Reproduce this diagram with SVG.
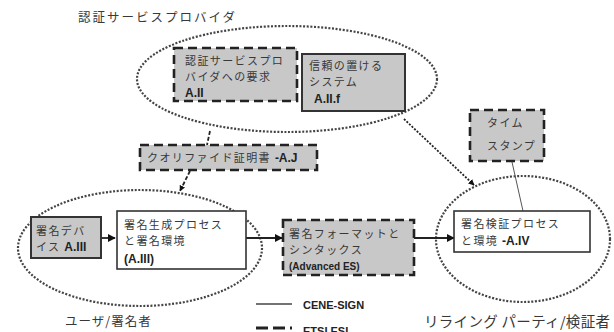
<svg xmlns="http://www.w3.org/2000/svg" width="614" height="332" viewBox="0 0 614 332">
<defs>
<style>
text{font-family:"Noto Sans CJK JP","Liberation Sans",sans-serif;fill:#383838;font-size:11px;letter-spacing:1.4px}
.b{font-family:"Liberation Sans","Noto Sans CJK JP",sans-serif;font-weight:bold;fill:#222;font-size:12px;letter-spacing:0}
.ell{fill:none;stroke:#444;stroke-width:2.2;stroke-dasharray:2 1.6}
.gs{fill:#c8c8c8;stroke:#333;stroke-width:2}
.gd{fill:#c8c8c8;stroke:#222;stroke-width:2.6;stroke-dasharray:9 5}
.ws{fill:#fff;stroke:#333;stroke-width:1.6}
.c{fill:none;stroke:#222;stroke-width:1.8}
</style>
<marker id="ah" viewBox="0 0 10 10" refX="9" refY="5" markerWidth="8" markerHeight="8" markerUnits="userSpaceOnUse" orient="auto"><path d="M0,0 L10,5 L0,10 z" fill="#111"/></marker>
<marker id="ahs" viewBox="0 0 10 10" refX="9" refY="5" markerWidth="6" markerHeight="6" markerUnits="userSpaceOnUse" orient="auto"><path d="M0,0 L10,5 L0,10 z" fill="#111"/></marker>
</defs>
<g id="csp-group">
<ellipse class="ell" cx="287" cy="79" rx="150" ry="53"/>
<text x="78" y="22" style="font-size:12.5px;letter-spacing:2px">認証サービスプロバイダ</text>
</g>
<g id="user-group">
<ellipse class="ell" cx="140" cy="248" rx="122" ry="58"/>
<text x="65" y="326" style="font-size:12.5px;letter-spacing:1px">ユーザ/署名者</text>
</g>
<g id="rp-group">
<ellipse class="ell" cx="523" cy="239" rx="87" ry="63"/>
<text x="424" y="327" style="font-size:14.5px;letter-spacing:0.3px">リライング パーティ/検証者</text>
</g>
<g id="connectors">
<line class="c" x1="210" y1="131" x2="207" y2="145" stroke-dasharray="4 2"/>
<line class="c" x1="190" y1="171" x2="180" y2="191" stroke-dasharray="4 2" marker-end="url(#ahs)"/>
<line class="c" x1="404" y1="119" x2="474" y2="185" stroke-dasharray="2 1.5" marker-end="url(#ahs)"/>
<line x1="512" y1="162" x2="523" y2="211" stroke="#555" stroke-width="1"/>
<line class="c" x1="101" y1="238" x2="115" y2="238" marker-end="url(#ah)"/>
<line class="c" x1="246" y1="238" x2="282" y2="238" marker-end="url(#ah)"/>
<line class="c" x1="403" y1="238" x2="454" y2="238" marker-end="url(#ah)"/>
</g>
<g id="a2">
<rect class="gd" x="174" y="48" width="123" height="53"/>
<text x="185" y="65">認証サービスプロ</text>
<text x="185" y="81">バイダへの要求</text>
<text class="b" x="185" y="97">A.II</text>
</g>
<g id="a2f">
<rect class="gs" x="302" y="54" width="103" height="57"/>
<text x="309" y="70">信頼の置ける</text>
<text x="309" y="86">システム</text>
<text class="b" x="314" y="103">A.II.f</text>
</g>
<g id="aj">
<rect class="gd" x="140" y="145" width="177" height="25"/>
<text x="147" y="162">クオリファイド証明書 <tspan class="b">-A.J</tspan></text>
</g>
<g id="timestamp">
<rect class="gd" x="470" y="110" width="74" height="51"/>
<text x="487" y="127">タイム</text>
<text x="487" y="150">スタンプ</text>
</g>
<g id="a3dev">
<rect class="gs" x="31" y="217" width="70" height="41"/>
<text x="36" y="235">署名デバ</text>
<text x="36" y="251">イス <tspan class="b">A.III</tspan></text>
</g>
<g id="a3proc">
<rect class="ws" x="117" y="211" width="129" height="58"/>
<text x="124" y="229">署名生成プロセス</text>
<text x="124" y="245">と署名環境</text>
<text class="b" x="124" y="263">(A.III)</text>
</g>
<g id="format">
<rect class="gd" x="283" y="220" width="131" height="55"/>
<text x="289" y="238">署名フォーマットと</text>
<text x="289" y="254">シンタックス</text>
<text class="b" x="289" y="270" style="font-size:10px">(Advanced ES)</text>
</g>
<g id="a4">
<rect class="ws" x="454" y="211" width="136" height="41"/>
<text x="461" y="228">署名検証プロセス</text>
<text x="461" y="245">と環境 <tspan class="b">-A.IV</tspan></text>
</g>
<g id="legend">
<line x1="256" y1="304" x2="292" y2="304" stroke="#444" stroke-width="1.5"/>
<text class="b" x="303" y="309" style="font-size:11px">CENE-SIGN</text>
<line x1="256" y1="328" x2="292" y2="328" stroke="#222" stroke-width="3" stroke-dasharray="12 5"/>
<text class="b" x="303" y="335" style="font-size:11px">ETSI ESI</text>
</g>
</svg>
